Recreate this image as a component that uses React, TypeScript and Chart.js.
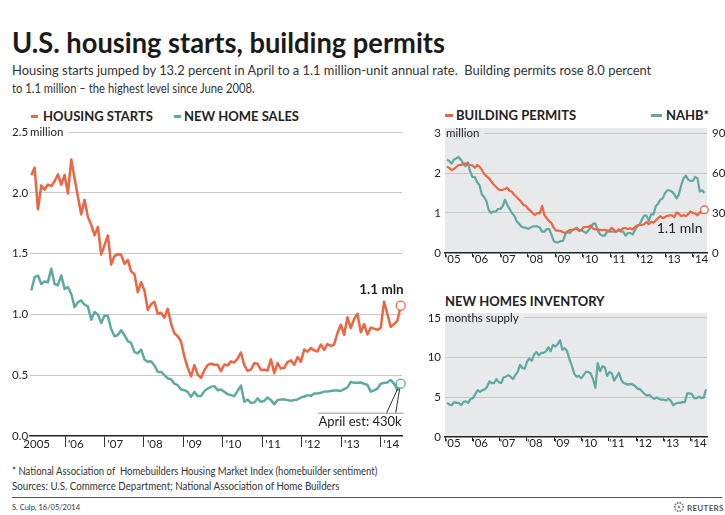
import React, { useEffect, useRef } from "react";
import { Chart, registerables } from "chart.js";

Chart.register(...registerables);

const FONT = "Lato, 'Noto Sans', 'DejaVu Sans', sans-serif";
const RED = "#ef6441";
const TEAL = "#5ea9a0";
const PANEL = "#e8e9eb";
const GRID = "#c8c8c8";
const INK = "#222222";
const TICK_SIZE = 11.5;

Chart.defaults.font.family = FONT;
Chart.defaults.color = INK;

// ---- data (monthly, Jan 2005 onward) ----
// Housing starts, thousands SAAR (Jan 2005 - Apr 2014)
const housingStarts = [
  2144, 2207, 1864, 2061, 2025, 2068, 2054, 2095, 2151, 2065, 2147, 1994,
  2273, 2119, 1969, 1821, 1942, 1802, 1737, 1650, 1720, 1491, 1570, 1649,
  1409, 1480, 1495, 1490, 1415, 1448, 1354, 1330, 1183, 1264, 1197, 1037,
  1084, 1103, 1005, 1013, 973, 1046, 923, 844, 820, 777, 652, 560,
  490, 582, 505, 478, 540, 585, 594, 586, 585, 534, 588, 581,
  614, 604, 636, 687, 583, 536, 546, 599, 594, 543, 545, 539,
  630, 517, 600, 554, 561, 608, 623, 585, 650, 610, 711, 694,
  723, 704, 695, 753, 708, 757, 740, 754, 847, 915, 833, 976,
  888, 962, 1005, 853, 919, 835, 891, 883, 873, 889, 1105, 1003,
  897, 920, 947, 1072,
];
// New home sales, thousands SAAR (Jan 2005 - Apr 2014 est.)
const newHomeSales = [
  1197, 1306, 1320, 1250, 1270, 1265, 1375, 1250, 1240, 1320, 1210, 1225,
  1170, 1060, 1100, 1115, 1080, 1066, 956, 1020, 1000, 930, 990, 986,
  880, 820, 830, 870, 830, 780, 765, 690, 680, 710, 630, 610,
  615, 580, 527, 527, 500, 473, 467, 430, 418, 383, 377, 363,
  322, 363, 328, 328, 369, 390, 404, 410, 377, 383, 363, 344,
  336, 328, 371, 415, 281, 300, 273, 276, 309, 281, 290, 317,
  295, 262, 295, 300, 300, 295, 290, 295, 300, 317, 325, 336,
  330, 350, 350, 355, 365, 365, 370, 375, 375, 370, 385, 400,
  445, 437, 437, 440, 430, 420, 365, 375, 390, 430, 437, 440,
  460, 430, 380, 430,
];
// Building permits, thousands SAAR (Jan 2005 - Apr 2014)
const buildingPermits = [
  2160, 2120, 2070, 2100, 2150, 2200, 2200, 2220, 2240, 2220, 2200, 2190,
  2130, 2200, 2160, 2080, 1980, 1920, 1870, 1800, 1720, 1660, 1600, 1570,
  1580, 1600, 1630, 1550, 1530, 1450, 1400, 1340, 1280, 1200, 1180, 1100,
  1060, 990, 950, 1000, 990, 1180, 950, 870, 800, 750, 630, 560,
  560, 550, 520, 500, 540, 580, 570, 600, 600, 550, 580, 650,
  650, 650, 690, 610, 590, 600, 570, 570, 580, 560, 560, 630,
  580, 530, 590, 570, 620, 620, 600, 620, 590, 650, 690, 700,
  700, 720, 770, 720, 780, 760, 810, 870, 920, 870, 900, 930,
  940, 940, 900, 1010, 980, 920, 950, 920, 970, 1040, 1000, 990,
  940, 1020, 1000, 1080,
];
// NAHB housing market index
const nahb = [
  70, 69, 67, 70, 71, 72, 70, 67, 65, 68, 61, 57,
  57, 53, 51, 44, 42, 39, 32, 30, 31, 31, 33, 33,
  35, 40, 36, 33, 30, 28, 24, 22, 20, 19, 19, 18,
  19, 20, 20, 20, 19, 16, 16, 18, 18, 14, 9, 8,
  8, 9, 9, 14, 16, 15, 17, 18, 19, 17, 17, 16,
  15, 17, 19, 22, 22, 17, 14, 13, 13, 16, 16, 16,
  16, 16, 17, 16, 16, 13, 15, 15, 14, 17, 20, 21,
  25, 28, 28, 24, 29, 29, 35, 37, 40, 41, 45, 47,
  47, 46, 44, 41, 44, 51, 56, 58, 55, 54, 54, 57,
  56, 46, 47, 45,
];
// New homes inventory, months' supply (Jan 2005 - Mar 2014)
const inventory = [
  4.3, 4.1, 4.0, 4.4, 4.3, 4.3, 4.0, 4.4, 4.5, 4.3, 4.8, 4.9,
  5.4, 5.9, 5.7, 5.9, 6.0, 6.3, 7.0, 6.8, 6.8, 7.3, 6.9, 6.8,
  7.5, 7.6, 7.8, 7.6, 7.3, 7.8, 8.2, 9.1, 8.7, 8.6, 9.5, 9.9,
  9.6, 10.4, 10.7, 10.3, 10.6, 10.6, 10.8, 11.3, 10.8, 11.6, 11.4, 11.7,
  12.2, 11.0, 11.2, 10.8, 9.8, 9.0, 8.0, 7.6, 7.7, 7.4, 7.8, 8.2,
  8.2, 8.0, 7.3, 6.2, 9.3, 8.3, 8.9, 8.8, 7.7, 8.2, 8.0, 7.1,
  7.6, 8.1, 7.2, 6.8, 6.7, 6.6, 6.7, 6.6, 6.4, 6.1, 6.0, 5.7,
  5.4, 5.2, 5.3, 5.0, 4.8, 5.0, 4.8, 4.7, 4.7, 4.6, 4.8, 4.6,
  4.0, 4.2, 4.3, 4.3, 4.4, 4.4, 5.5, 5.5, 5.4, 4.9, 4.9, 5.1,
  4.9, 5.0, 6.0,
];

const mainYearLabels = ["2005", "'06", "'07", "'08", "'09", "'10", "'11", "'12", "'13", "'14"];
const panelYearLabels = ["'05", "'06", "'07", "'08", "'09", "'10", "'11", "'12", "'13", "'14"];
const mainYTicks = [0, 0.5, 1, 1.5, 2, 2.5];
const permitsTicks = [0, 1, 2, 3];
const nahbTicks = [0, 30, 60, 90];
const inventoryTicks = [0, 5, 10, 15];

// ---- helpers ----
const series = (values: number[], div = 1) => values.map((v, i) => ({ x: i, y: v / div }));
const tickValues = (n: number, first: number, step: number) =>
  Array.from({ length: n }, (_, k) => first + step * k);

const lastPointRadius = (n: number, r: number) => (c: any) => (c.dataIndex === n - 1 ? r : 0);

const panelBg = {
  id: "panelBg",
  beforeDraw(chart: any) {
    const { ctx, chartArea: a } = chart;
    ctx.save();
    ctx.fillStyle = PANEL;
    ctx.fillRect(a.left, a.top, a.right - a.left, a.bottom - a.top);
    ctx.restore();
  },
};

const unitLabel = (text: string, value: number, bg: string, dx: number) => ({
  id: "unitLabel",
  beforeDatasetsDraw(chart: any) {
    const { ctx, chartArea: a } = chart;
    const yPx = chart.scales.y.getPixelForValue(value);
    ctx.save();
    ctx.font = `${TICK_SIZE}px ${FONT}`;
    const x0 = a.left + dx;
    const tw = ctx.measureText(text).width;
    ctx.fillStyle = bg;
    ctx.fillRect(a.left, yPx - 2, x0 + tw + 5 - a.left, 4);
    ctx.fillStyle = INK;
    ctx.textAlign = "left";
    ctx.textBaseline = "middle";
    ctx.fillText(text, x0, yPx + 0.5);
    ctx.restore();
  },
});

const mainNotes = {
  id: "mainNotes",
  afterDatasetsDraw(chart: any) {
    const { ctx } = chart;
    const hs = chart.getDatasetMeta(0).data;
    const ns = chart.getDatasetMeta(1).data;
    const p = hs[hs.length - 1];
    const q = ns[ns.length - 1];
    ctx.save();
    ctx.fillStyle = INK;
    ctx.textAlign = "right";
    ctx.textBaseline = "middle";
    ctx.font = `bold 13.5px ${FONT}`;
    ctx.fillText("1.1 mln", p.x + 3, p.y - 16);
    // April estimate callout
    const yl = q.y + 29;
    ctx.strokeStyle = "#9a9a9a";
    ctx.lineWidth = 1;
    ctx.beginPath();
    ctx.moveTo(q.x - 83, yl + 0.5);
    ctx.lineTo(q.x + 3, yl + 0.5);
    ctx.stroke();
    ctx.strokeStyle = "#333";
    ctx.beginPath();
    ctx.moveTo(q.x - 3, q.y + 5);
    ctx.lineTo(q.x - 14, yl);
    ctx.moveTo(q.x - 1, q.y + 5);
    ctx.lineTo(q.x - 5, yl);
    ctx.stroke();
    ctx.font = `13px ${FONT}`;
    ctx.fillText("April est: 430k", q.x + 1, yl + 9);
    ctx.restore();
  },
};

const permitsNote = {
  id: "permitsNote",
  afterDatasetsDraw(chart: any) {
    const { ctx } = chart;
    const pts = chart.getDatasetMeta(0).data;
    const p = pts[pts.length - 1];
    ctx.save();
    ctx.fillStyle = INK;
    ctx.textAlign = "right";
    ctx.textBaseline = "middle";
    ctx.font = `14px ${FONT}`;
    ctx.fillText("1.1 mln", p.x - 2, p.y + 19);
    ctx.restore();
  },
};

const lineDs = (label: string, data: any[], color: string, width: number, r: number, extra: any = {}) => ({
  label,
  data,
  borderColor: color,
  borderWidth: width,
  pointRadius: lastPointRadius(data.length, r),
  pointHoverRadius: 0,
  pointBackgroundColor: "#ffffff",
  pointBorderColor: color,
  pointBorderWidth: 1.3,
  tension: 0,
  clip: false,
  borderJoinStyle: "round",
  ...extra,
});

const hideZero = (c: any) => (c.tick && c.tick.value === 0 ? "rgba(0,0,0,0)" : GRID);

function mainConfig(): any {
  const xt = tickValues(mainYearLabels.length, -1.7, 11.85);
  xt[0] = -2.4;
  return {
    type: "line",
    data: {
      datasets: [
        lineDs("HOUSING STARTS", series(housingStarts, 1000), RED, 2.5, 4.5),
        lineDs("NEW HOME SALES", series(newHomeSales, 1000), TEAL, 2.5, 4.5),
      ],
    },
    options: {
      animation: false,
      responsive: false,
      events: [],
      layout: { padding: { left: 12, top: 12, right: 13, bottom: 0 } },
      plugins: { legend: { display: false }, tooltip: { enabled: false } },
      scales: {
        x: {
          type: "linear",
          min: -0.39,
          max: 111.39,
          afterBuildTicks: (s: any) => {
            s.ticks = xt.map((v) => ({ value: v }));
          },
          afterFit: (s: any) => {
            s.height = 24;
            s.paddingLeft = 0;
            s.paddingRight = 0;
          },
          grid: {
            drawOnChartArea: false,
            drawTicks: true,
            tickLength: 11,
            lineWidth: 1,
            color: (c: any) => (c.index === 0 ? "rgba(0,0,0,0)" : "#333"),
          },
          border: { display: true, color: INK, width: 1.5 },
          ticks: {
            autoSkip: false,
            maxRotation: 0,
            align: "start",
            padding: -10,
            color: INK,
            font: { size: TICK_SIZE },
            callback: (_v: any, i: number) => (i === 0 ? mainYearLabels[0] : " " + mainYearLabels[i]),
          },
        },
        y: {
          min: 0,
          max: 2.5,
          afterBuildTicks: (s: any) => {
            s.ticks = mainYTicks.map((v) => ({ value: v }));
          },
          afterFit: (s: any) => {
            s.width = 18;
            s.paddingTop = 0;
            s.paddingBottom = 0;
          },
          grid: { color: hideZero, drawTicks: false, lineWidth: 1 },
          border: { display: false },
          ticks: {
            crossAlign: "far",
            padding: 0,
            color: INK,
            font: { size: TICK_SIZE },
            callback: (v: number) => v.toFixed(1),
          },
        },
      },
    },
    plugins: [unitLabel("million", 2.5, "#ffffff", 0), mainNotes],
  };
}

const panelX = (first: number, step: number, min: number, max: number) => ({
  type: "linear",
  min,
  max,
  afterBuildTicks: (s: any) => {
    s.ticks = tickValues(panelYearLabels.length, first, step).map((v) => ({ value: v }));
  },
  afterFit: (s: any) => {
    s.height = 19;
    s.paddingLeft = 0;
    s.paddingRight = 0;
  },
  grid: { drawOnChartArea: false, drawTicks: true, tickLength: 4, color: INK, lineWidth: 1 },
  border: { display: true, color: INK, width: 1.5 },
  ticks: {
    autoSkip: false,
    maxRotation: 0,
    align: "start",
    padding: -5,
    color: INK,
    font: { size: TICK_SIZE },
    callback: (_v: any, i: number) => panelYearLabels[i],
  },
});

const panelY = (max: number, ticks: number[], width: number) => ({
  min: 0,
  max,
  afterBuildTicks: (s: any) => {
    s.ticks = ticks.map((v) => ({ value: v }));
  },
  afterFit: (s: any) => {
    s.width = width;
    s.paddingTop = 0;
    s.paddingBottom = 0;
  },
  grid: { color: hideZero, drawTicks: false, lineWidth: 1 },
  border: { display: false },
  ticks: { crossAlign: "near", padding: 4, color: INK, font: { size: TICK_SIZE } },
});

function permitsConfig(): any {
  return {
    type: "line",
    data: {
      datasets: [
        lineDs("BUILDING PERMITS", series(buildingPermits, 1000), RED, 2.2, 3.8, { yAxisID: "y" }),
        lineDs("NAHB*", series(nahb), TEAL, 2.2, 0, { yAxisID: "y1" }),
      ],
    },
    options: {
      animation: false,
      responsive: false,
      events: [],
      layout: { padding: { left: 0, top: 6, right: 0, bottom: 0 } },
      plugins: { legend: { display: false }, tooltip: { enabled: false } },
      scales: {
        x: panelX(-0.86, 11.86, -0.86, 112.1),
        y: panelY(3.125, permitsTicks, 25),
        y1: {
          position: "right",
          min: 0,
          max: 93.75,
          afterBuildTicks: (s: any) => {
            s.ticks = nahbTicks.map((v) => ({ value: v }));
          },
          afterFit: (s: any) => {
            s.width = 18;
            s.paddingTop = 0;
            s.paddingBottom = 0;
          },
          grid: { display: false, drawTicks: false },
          border: { display: false },
          ticks: { crossAlign: "near", padding: 5, color: INK, font: { size: TICK_SIZE } },
        },
      },
    },
    plugins: [panelBg, unitLabel("million", 3, PANEL, 1), permitsNote],
  };
}

function inventoryConfig(): any {
  return {
    type: "line",
    data: {
      datasets: [lineDs("NEW HOMES INVENTORY", series(inventory), TEAL, 2.2, 0)],
    },
    options: {
      animation: false,
      responsive: false,
      events: [],
      layout: { padding: { left: 0, top: 8, right: 18, bottom: 0 } },
      plugins: { legend: { display: false }, tooltip: { enabled: false } },
      scales: {
        x: { ...panelX(-0.85, 11.6, -0.85, 110.4), afterFit: (s: any) => { s.height = 28; s.paddingLeft = 0; s.paddingRight = 0; } },
        y: panelY(15.63, inventoryTicks, 25),
      },
    },
    plugins: [panelBg, unitLabel("months supply", 15, PANEL, 0)],
  };
}

// ---- components ----
function ChartBox({ left, top, width, height, make }: any) {
  const ref = useRef<HTMLCanvasElement>(null);
  useEffect(() => {
    const chart = new Chart(ref.current as HTMLCanvasElement, make());
    return () => chart.destroy();
  }, []);
  return (
    <canvas
      ref={ref}
      width={width}
      height={height}
      style={{ position: "absolute", left, top, width, height }}
    />
  );
}

let measureCtx: CanvasRenderingContext2D | null = null;
function measure(text: string, size: number, weight: number) {
  if (!measureCtx) measureCtx = document.createElement("canvas").getContext("2d");
  if (!measureCtx) return 0;
  measureCtx.font = `${weight} ${size}px ${FONT}`;
  return measureCtx.measureText(text).width;
}

function Txt({ x, cy, size, weight = 400, w, color = INK, children }: any) {
  let sx = 1;
  if (w) {
    const m = measure(children, size, weight);
    if (m > 0) sx = w / m;
  }
  const L = Math.round(size * 1.2);
  return (
    <div
      style={{
        position: "absolute",
        left: x,
        top: cy - L / 2,
        fontSize: size,
        fontWeight: weight,
        lineHeight: `${L}px`,
        whiteSpace: "pre",
        color,
        transform: `scaleX(${sx})`,
        transformOrigin: "left center",
      }}
    >
      {children}
    </div>
  );
}

function Dash({ x, cy, w, color }: any) {
  return <div style={{ position: "absolute", left: x, top: cy - 1.5, width: w, height: 3, background: color }} />;
}

function ReutersLogo() {
  const dots = Array.from({ length: 10 }, (_, k) => {
    const a = (k / 10) * Math.PI * 2;
    return <circle key={k} cx={7 + 4.3 * Math.cos(a)} cy={7 + 4.3 * Math.sin(a)} r={1.05} fill="#8a8a8a" />;
  });
  return (
    <svg width={52} height={14} style={{ position: "absolute", left: 672, top: 500 }}>
      {dots}
      <circle cx={7} cy={7} r={1.3} fill="#8a8a8a" />
      <text x={15} y={10.5} fontSize={8} fontWeight={700} fill="#555" fontFamily={FONT} letterSpacing={0.3}>
        REUTERS
      </text>
    </svg>
  );
}

export default function App() {
  return (
    <div
      style={{
        position: "fixed",
        left: 0,
        top: 0,
        width: 725,
        height: 515,
        background: "#ffffff",
        overflow: "hidden",
        fontFamily: FONT,
        color: INK,
      }}
    >
      <Txt x={12} cy={42} size={28} weight={700} w={433} color="#1a1a1a">
        U.S. housing starts, building permits
      </Txt>
      <Txt x={12} cy={70} size={13.5} w={640} color="#333">
        Housing starts jumped by 13.2 percent in April to a 1.1 million-unit annual rate.  Building permits rose 8.0 percent
      </Txt>
      <Txt x={12} cy={88} size={13.5} w={243} color="#333">
        to 1.1 million – the highest level since June 2008.
      </Txt>

      <Dash x={31} cy={116} w={7} color={RED} />
      <Txt x={43} cy={116} size={13} weight={700}>HOUSING STARTS</Txt>
      <Dash x={174} cy={116} w={7} color={TEAL} />
      <Txt x={184} cy={116} size={13} weight={700}>NEW HOME SALES</Txt>

      <Dash x={445} cy={115} w={8} color={RED} />
      <Txt x={456} cy={115} size={13} weight={700}>BUILDING PERMITS</Txt>
      <Dash x={651} cy={115} w={11} color={TEAL} />
      <Txt x={666} cy={115} size={13} weight={700}>NAHB*</Txt>

      <Txt x={445} cy={301} size={13} weight={700}>NEW HOMES INVENTORY</Txt>

      <ChartBox left={0} top={120} width={415} height={340} make={mainConfig} />
      <ChartBox left={420} top={122} width={305} height={150} make={permitsConfig} />
      <ChartBox left={420} top={305} width={305} height={160} make={inventoryConfig} />

      <Txt x={12} cy={471} size={10.5} w={366} color="#333">
        * National Association of  Homebuilders Housing Market Index (homebuilder sentiment)
      </Txt>
      <Txt x={12} cy={486} size={10.5} w={328} color="#333">
        Sources: U.S. Commerce Department; National Association of Home Builders
      </Txt>
      <div style={{ position: "absolute", left: 12, top: 497, width: 710, height: 1, background: "#555" }} />
      <Txt x={12} cy={507} size={8} w={68} color="#333">
        S. Culp, 16/05/2014
      </Txt>
      <ReutersLogo />
    </div>
  );
}
